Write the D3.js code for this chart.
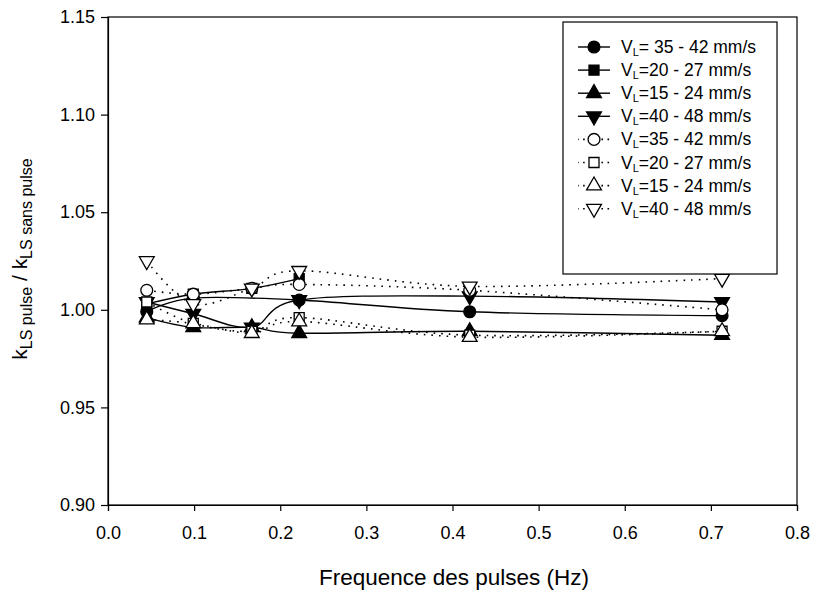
<!DOCTYPE html>
<html>
<head>
<meta charset="utf-8">
<script src="https://cdn.jsdelivr.net/npm/d3@7"></script>
<style>
  body { margin: 0; background: #fff; }
  svg { font-family: "Liberation Sans", Arial, sans-serif; }
</style>
</head>
<body>
<svg id="chart" width="813" height="590"></svg>
<script>
// ---- data ----
const freq = [0.045, 0.099, 0.167, 0.222, 0.420, 0.713];
const labels = ["= 35 - 42 mm/s", "=20 - 27 mm/s", "=15 - 24 mm/s", "=40 - 48 mm/s",
                "=35 - 42 mm/s", "=20 - 27 mm/s", "=15 - 24 mm/s", "=40 - 48 mm/s"];
const circleFilled   = [0.999, 1.006, null, 1.005, 0.999, 0.997];
const squareFilled   = [1.003, 1.008, 1.011, 1.016, null, null];
const triUpFilled    = [0.996, 0.991, 0.991, 0.988, 0.989, 0.987];
const triDownFilled  = [1.004, 0.998, 0.991, 1.005, 1.007, 1.004];
const circleOpen     = [1.010, 1.008, 1.011, 1.013, 1.010, 1.000];
const squareOpen     = [1.004, 0.993, 0.989, 0.996, 0.987, 0.989];
const triUpOpen      = [0.995, 0.993, 0.988, 0.994, 0.986, 0.989];
const triDownOpen    = [1.025, 1.003, 1.011, 1.020, 1.012, 1.016];
const xTicks = [0.0, 0.1, 0.2, 0.3, 0.4, 0.5, 0.6, 0.7, 0.8];
const yTicks = [0.90, 0.95, 1.00, 1.05, 1.10, 1.15];

const seriesValues = [circleFilled, squareFilled, triUpFilled, triDownFilled,
                      circleOpen, squareOpen, triUpOpen, triDownOpen];
const shapes = ["circle", "square", "up", "down", "circle", "square", "up", "down"];
const filled = [true, true, true, true, false, false, false, false];

// ---- layout ----
const svg = d3.select("#chart");
const L = 108, R = 797, T = 17, B = 505;
const x = d3.scaleLinear().domain([0, 0.8]).range([L, R]);
const y = d3.scaleLinear().domain([0.90, 1.15]).range([B, T]);

// frame
svg.append("rect").attr("x", L).attr("y", T).attr("width", R - L).attr("height", B - T)
  .attr("fill", "none").attr("stroke", "#000").attr("stroke-width", 1.2);

// axes
const xAxis = svg.append("g").attr("transform", `translate(0,${B})`)
  .call(d3.axisBottom(x).tickValues(xTicks).tickFormat(d3.format(".1f")).tickSize(6).tickPadding(15));
const yAxis = svg.append("g").attr("transform", `translate(${L},0)`)
  .call(d3.axisLeft(y).tickValues(yTicks).tickFormat(d3.format(".2f")).tickSize(7).tickPadding(6));
[xAxis, yAxis].forEach(g => {
  g.select(".domain").attr("stroke", "#000").attr("stroke-width", 1.2);
  g.selectAll(".tick line").attr("stroke", "#000").attr("stroke-width", 1.2);
  g.selectAll(".tick text").attr("fill", "#000").style("font-size", "18px")
    .style("font-family", "'Liberation Sans', Arial, sans-serif");
});

// axis titles
svg.append("text").attr("x", 454).attr("y", 585).attr("text-anchor", "middle")
  .style("font-size", "22.5px").text("Frequence des pulses (Hz)");
const yt = svg.append("text").attr("transform", `translate(27,${(T + B) / 2 - 2}) rotate(-90)`)
  .attr("text-anchor", "middle").style("font-size", "21px");
yt.append("tspan").text("k");
yt.append("tspan").attr("dy", 5).style("font-size", "16px").text("LS pulse");
yt.append("tspan").attr("dy", -5).text(" / k");
yt.append("tspan").attr("dy", 5).style("font-size", "16px").text("LS sans pulse");

// symbols
function symPath(shape) {
  if (shape === "circle") return d3.symbol(d3.symbolCircle, 110)();
  if (shape === "square") return d3.symbol(d3.symbolSquare, 100)();
  return d3.symbol(d3.symbolTriangle, 95)();
}
function drawSymbol(g, shape, isFilled, cx, cy) {
  g.append("path").attr("d", symPath(shape))
    .attr("transform", `translate(${cx},${cy})` + (shape === "down" ? " rotate(180)" : ""))
    .attr("fill", isFilled ? "#000" : "#fff")
    .attr("stroke", "#000").attr("stroke-width", 1.3);
}

const line = d3.line().x(d => x(d[0])).y(d => y(d[1])).curve(d3.curveCatmullRom.alpha(0));

const plot = svg.append("g");
// lines first
seriesValues.forEach((vals, i) => {
  const pts = freq.map((f, j) => [f, vals[j]]).filter(p => p[1] !== null);
  plot.append("path").datum(pts).attr("d", line)
    .attr("fill", "none").attr("stroke", "#000")
    .attr("stroke-width", filled[i] ? 1.4 : 1.6)
    .attr("stroke-dasharray", filled[i] ? null : "1.6,6");
});
// markers
seriesValues.forEach((vals, i) => {
  const g = plot.append("g");
  freq.forEach((f, j) => {
    if (vals[j] !== null) drawSymbol(g, shapes[i], filled[i], x(f), y(vals[j]));
  });
});

// legend
const lg = svg.append("g");
lg.append("rect").attr("x", 563).attr("y", 22).attr("width", 214).attr("height", 252)
  .attr("fill", "#fff").attr("stroke", "#000").attr("stroke-width", 1.2);
labels.forEach((lab, i) => {
  const cy = 47 + i * 23.1;
  lg.append("line").attr("x1", 578).attr("x2", 610).attr("y1", cy).attr("y2", cy)
    .attr("stroke", "#000").attr("stroke-width", filled[i] ? 1.4 : 1.6)
    .attr("stroke-dasharray", filled[i] ? null : "1.6,4.5")
    .attr("stroke-dashoffset", filled[i] ? 0 : 1);
  drawSymbol(lg, shapes[i], filled[i], 594, cy);
  const t = lg.append("text").attr("x", 621).attr("y", cy + 6).style("font-size", "17.5px");
  t.append("tspan").text("V");
  t.append("tspan").attr("dy", 3).style("font-size", "11px").text("L");
  t.append("tspan").attr("dy", -3).text(lab);
});
</script>
</body>
</html>
